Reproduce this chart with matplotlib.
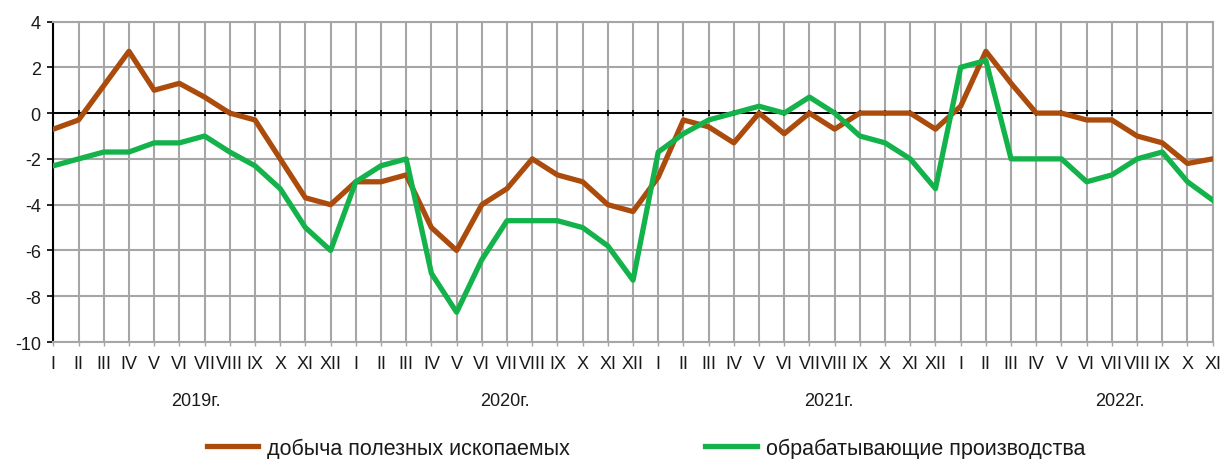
import matplotlib
matplotlib.use("Agg")
import matplotlib.pyplot as plt
import numpy as np

plt.rcParams["font.family"] = ["Liberation Sans", "DejaVu Sans"]
plt.rcParams["axes.unicode_minus"] = False

# monthly values, Jan 2019 .. Nov 2022
months = ["I", "II", "III", "IV", "V", "VI", "VII", "VIII", "IX", "X", "XI", "XII"]
month_labels = months * 3 + months[:11]
years = ["2019г.", "2020г.", "2021г.", "2022г."]

mining = [
    -0.7, -0.3, 1.2, 2.7, 1.0, 1.3, 0.7, 0.0, -0.3, -2.0, -3.7, -4.0,
    -3.0, -3.0, -2.7, -5.0, -6.0, -4.0, -3.3, -2.0, -2.7, -3.0, -4.0, -4.3,
    -2.8, -0.3, -0.6, -1.3, 0.0, -0.9, 0.0, -0.7, 0.0, 0.0, 0.0, -0.7,
    0.3, 2.7, 1.3, 0.0, 0.0, -0.3, -0.3, -1.0, -1.3, -2.2, -2.0,
]
manufacturing = [
    -2.3, -2.0, -1.7, -1.7, -1.3, -1.3, -1.0, -1.7, -2.3, -3.3, -5.0, -6.0,
    -3.0, -2.3, -2.0, -7.0, -8.7, -6.4, -4.7, -4.7, -4.7, -5.0, -5.8, -7.3,
    -1.7, -0.9, -0.3, 0.0, 0.3, 0.0, 0.7, 0.0, -1.0, -1.3, -2.0, -3.3,
    2.0, 2.3, -2.0, -2.0, -2.0, -3.0, -2.7, -2.0, -1.7, -3.0, -3.8,
]
series_names = ["добыча полезных ископаемых", "обрабатывающие производства"]

BROWN = "#ab4b0c"
GREEN = "#13b24b"
GRID = "#a6a6a6"
TEXT = "#1a1a1a"

x = np.arange(len(month_labels))

fig = plt.figure(figsize=(12.21, 4.60), dpi=100)
ax = fig.add_axes([0.0437, 0.2543, 0.9495, 0.6967])

ax.set_xlim(0, len(x) - 1)
ax.set_ylim(-10, 4)
ax.set_yticks(np.arange(-10, 5, 2))
ax.set_xticks(x)
ax.set_xticklabels(month_labels, fontsize=13, color=TEXT)
ax.tick_params(axis="y", labelsize=13, labelcolor=TEXT, length=4, width=1.2, color="black", pad=5)
ax.tick_params(axis="x", length=3, width=1, color=GRID, pad=6)

ax.grid(True, color=GRID, linewidth=1.5)
ax.set_axisbelow(True)
for side in ("top", "right", "bottom"):
    ax.spines[side].set_color(GRID)
    ax.spines[side].set_linewidth(1.5)
ax.spines["left"].set_color("black")
ax.spines["left"].set_linewidth(1.5)

# zero line with small ticks at each month
ax.axhline(0, color="black", linewidth=1.4, zorder=2)
ax.plot(x, np.zeros(len(x)), linestyle="none", marker="|", markersize=5,
        color="black", markeredgewidth=1.2, zorder=2)

ax.plot(x, mining, color=BROWN, linewidth=3.8, label=series_names[0], zorder=3)
ax.plot(x, manufacturing, color=GREEN, linewidth=3.8, label=series_names[1], zorder=4)

# year captions under the month labels
year_pos = [5.65, 17.9, 30.75, 42.3]
for pos, label in zip(year_pos, years):
    ax.text(pos, -0.184, label, transform=ax.get_xaxis_transform(),
            ha="center", va="center", fontsize=13, color=TEXT)

fig.legend(loc="center", bbox_to_anchor=(0.529, 0.024), ncol=2, frameon=False,
           fontsize=15.5, handlelength=2.4, handletextpad=0.4, columnspacing=6.3,
           labelcolor=TEXT)

fig.savefig("out.png", dpi=100)
